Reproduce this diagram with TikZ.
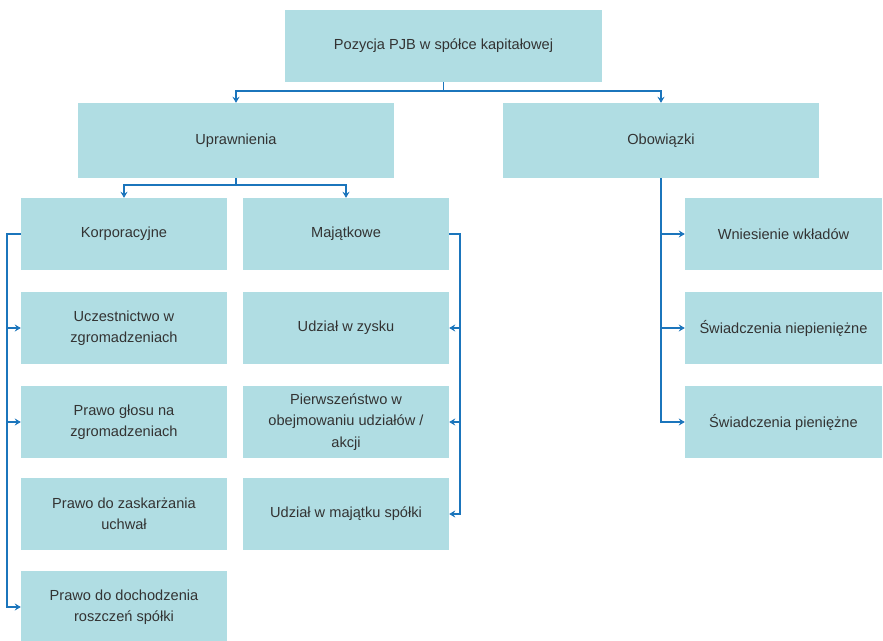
\documentclass[tikz,border=0pt]{standalone}
\usepackage{fontspec}
\setmainfont{Liberation Sans}
\usetikzlibrary{arrows.meta}
\definecolor{boxfill}{HTML}{B0DDE3}
\definecolor{linkblue}{HTML}{1B75BC}
\definecolor{textgrey}{HTML}{333333}

\begin{document}
\begin{tikzpicture}[x=1pt, y=-1pt, >={Stealth[length=6pt,width=7pt]},
  box/.style={
  % The shape:
  rectangle,
  % The size:
  minimum height=72pt, inner sep=0pt,
  % The fill and text
  fill=boxfill, text=textgrey,
  font=\fontsize{14.6}{21.5}\selectfont,
      align=center},
  link/.style={draw=linkblue, line width=1.5pt}]
  \useasboundingbox (0,0) rectangle (883,640);

  \node [box, minimum width=317pt] (top) at (443.5,46) {Pozycja PJB w spółce kapitałowej};
  \node [box, minimum width=316pt, minimum height=75pt] (upr) at (236,140.5) {Uprawnienia};
  \node [box, minimum width=316pt, minimum height=75pt] (obo) at (661,140.5) {Obowiązki};

  \node [box, minimum width=206pt] (korp) at (124,234) {Korporacyjne};
  \node [box, minimum width=206pt] (uczest) at (124,328) {Uczestnictwo w\\ zgromadzeniach};
  \node [box, minimum width=206pt] (glos) at (124,422) {Prawo głosu na\\ zgromadzeniach};
  \node [box, minimum width=206pt] (zaskarz) at (124,514) {Prawo do zaskarżania\\ uchwał};
  \node [box, minimum width=206pt] (dochodz) at (124,607) {Prawo do dochodzenia\\ roszczeń spółki};

  \node [box, minimum width=206pt] (maj) at (346,234) {Majątkowe};
  \node [box, minimum width=206pt] (zysk) at (346,328) {Udział w zysku};
  \node [box, minimum width=206pt] (pierw) at (346,422) {Pierwszeństwo w\\ obejmowaniu udziałów /\\ akcji};
  \node [box, minimum width=206pt] (majatek) at (346,514) {Udział w majątku spółki};

  \node [box, minimum width=197pt] (wklad) at (783.5,234) {Wniesienie wkładów};
  \node [box, minimum width=197pt] (niepien) at (783.5,328) {Świadczenia niepieniężne};
  \node [box, minimum width=197pt] (pien) at (783.5,422) {Świadczenia pieniężne};

  \draw [link, ->] (top.south) -- ++(0,9) -| (upr.north);
  \draw [link, ->] (top.south) -- ++(0,9) -| (obo.north);
  \draw [link, ->] (upr.south) -- ++(0,7) -| (korp.north);
  \draw [link, ->] (upr.south) -- ++(0,7) -| (maj.north);

  \draw [link, ->] (korp.west) -- ++(-14,0) |- (uczest.west);
  \draw [link, ->] (korp.west) -- ++(-14,0) |- (glos.west);
  \draw [link, ->] (korp.west) -- ++(-14,0) |- (dochodz.west);

  \draw [link, ->] (maj.east) -- ++(11,0) |- (zysk.east);
  \draw [link, ->] (maj.east) -- ++(11,0) |- (pierw.east);
  \draw [link, ->] (maj.east) -- ++(11,0) |- (majatek.east);

  \draw [link, ->] (obo.south) |- (wklad.west);
  \draw [link, ->] (obo.south) |- (niepien.west);
  \draw [link, ->] (obo.south) |- (pien.west);

\end{tikzpicture}
\end{document}
